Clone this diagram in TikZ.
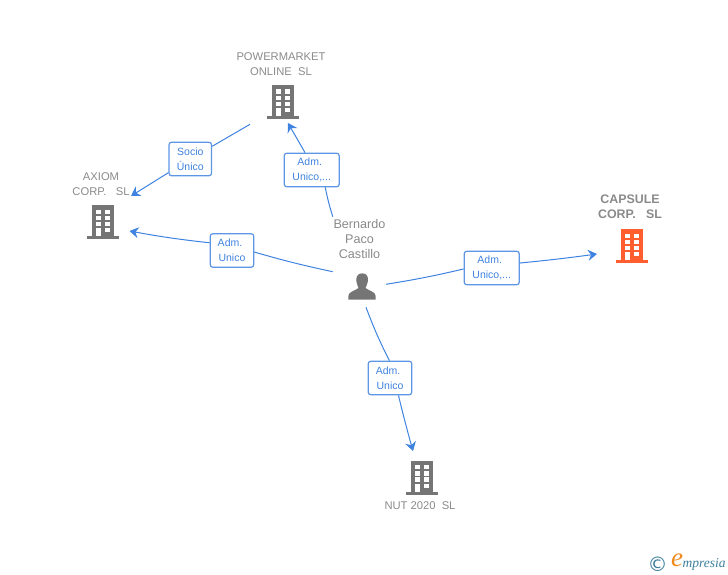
\documentclass[tikz,border=0pt]{standalone}
\usepackage{fontspec}
\setmainfont{Liberation Sans}
\newfontfamily\logofont{Liberation Serif}
\newfontfamily\symfont{DejaVu Sans}
\usetikzlibrary{arrows.meta}
\definecolor{linkblue}{HTML}{3F83E0}
\definecolor{namegray}{HTML}{8A8A8A}
\definecolor{iconeq}{HTML}{757575}
\definecolor{iconorange}{HTML}{FF5F2E}
\definecolor{logoteal}{HTML}{3C7F9C}
\definecolor{logoorange}{HTML}{F08A1D}
\tikzset{
  building/.pic={
    \fill[pic actions] (-11,-17) rectangle (11,14);
    \fill[pic actions] (-16,14) rectangle (16,17);
    \foreach \wy in {-12.5,-6.3,-0.1} {
      \fill[white] (-6.7,\wy) rectangle ++(4.7,4.3);
      \fill[white] (2.3,\wy) rectangle ++(4.7,4.3);
    }
    \fill[white] (-6.7,6) rectangle (-2,14);
    \fill[white] (2.3,6) rectangle (7,10.3);
  }
}
\begin{document}
\begin{tikzpicture}[
  x=1pt, y=-1pt,
  namenode/.style={font=\fontsize{11.2}{15}\selectfont, text=namegray, align=center, inner sep=0pt},
  mainnode/.style={namenode, font=\fontsize{12.4}{15}\selectfont\bfseries},
  personnode/.style={namenode, font=\fontsize{12.6}{15}\selectfont},
  linkbox/.style={draw=linkblue!85, fill=white, rounded corners=2.5pt, line width=1.2pt, text=linkblue,
    font=\fontsize{10.5}{15}\selectfont, align=center, inner sep=0pt, minimum height=33.5pt},
  link/.style={draw=linkblue, line width=1pt},
  linkend/.style={link, ->, >={Stealth[length=9pt,width=11pt,inset=3pt]}}
]
\useasboundingbox (0,0) rectangle (728,575);

% Companies
\node[namenode] (powermarket) at (281,64) {POWERMARKET\\ONLINE\ \ SL};
\pic[fill=iconeq] at (283,102) {building};
\node[namenode] (axiom) at (101,184) {AXIOM\\CORP.\ \ \ SL};
\pic[fill=iconeq] at (102.5,222) {building};
\node[mainnode] (capsule) at (630,207) {CAPSULE\\CORP.\ \ \ SL};
\pic[fill=iconorange] at (632,246) {building};
\node[namenode] (nut) at (420,506) {NUT 2020\ \ SL};
\pic[fill=iconeq] at (422,477.5) {building};

% Person
\node[personnode] (bernardo) at (359.5,239) {Bernardo\\Paco\\Castillo};
\fill[iconeq] (362.3,273.3) .. controls (357.5,273.3) and (356,277) .. (356.3,281)
  .. controls (356.5,284) and (358,286) .. (358.5,288)
  .. controls (355,291) and (348.5,291.5) .. (348.3,296) -- (348.3,299.5) -- (375.7,299.5) -- (375.7,296)
  .. controls (375.5,291.5) and (369,291) .. (365.5,288)
  .. controls (366,286) and (367.8,284) .. (368,281)
  .. controls (368.3,277) and (367,273.3) .. (362.3,273.3) -- cycle;

% Link boxes
\node[linkbox, minimum width=42.5pt] (socio) at (190.3,159) {Socio\\Único};
\node[linkbox, minimum width=55pt] (admtop) at (311.7,170) {Adm.\hspace*{4pt}\\Unico,...};
\node[linkbox, minimum width=43.5pt] (admleft) at (232,250.5) {Adm.\hspace*{4pt}\\Unico};
\node[linkbox, minimum width=55pt] (admright) at (491.7,268) {Adm.\hspace*{4pt}\\Unico,...};
\node[linkbox, minimum width=43.5pt] (admdown) at (390,378) {Adm.\hspace*{4pt}\\Unico};

% Free ends
\coordinate (powerout) at (250,124.3);
\coordinate (axiomin) at (131,196);
\coordinate (powerin) at (288,123);
\coordinate (axiomin2) at (129.5,231);
\coordinate (capsulein) at (597,254);
\coordinate (nutin) at (413,451);
\coordinate (persontop) at (332.8,216.7);
\coordinate (personleft) at (332.7,271.7);
\coordinate (personright) at (386,284.3);
\coordinate (persondown) at (366,307.3);

% Connectors
\draw[link] (powerout) -- (socio);
\draw[linkend] (socio) -- (axiomin);
\draw[link] (persontop) to[bend left=3] (admtop.-52);
\draw[linkend] (admtop.111) -- (powerin);
\draw[link] (personleft) to[bend left=2] (admleft.-4);
\draw[linkend] (admleft.161) to[bend left=2] (axiomin2);
\draw[link] (personright) to[bend right=2] (admright.182);
\draw[linkend] (admright.10) to[bend right=1] (capsulein);
\draw[link] (persondown) to[bend right=3] (admdown.92);
\draw[linkend] (admdown.-64) to[bend right=1] (nutin);

% Logo
\node[inner sep=0pt, text=logoteal, font=\fontsize{20}{20}\selectfont\symfont] (copyr) at (657.5,564) {©};
\node[inner sep=0pt, text=logoorange, font=\fontsize{27}{27}\selectfont\logofont\itshape] (logoe) at (677,560.5) {e};
\node[inner sep=0pt, text=logoteal, anchor=west, font=\fontsize{13.5}{14}\selectfont\logofont\itshape] (logotext) at (682.5,564) {mpresia};
\end{tikzpicture}
\end{document}
